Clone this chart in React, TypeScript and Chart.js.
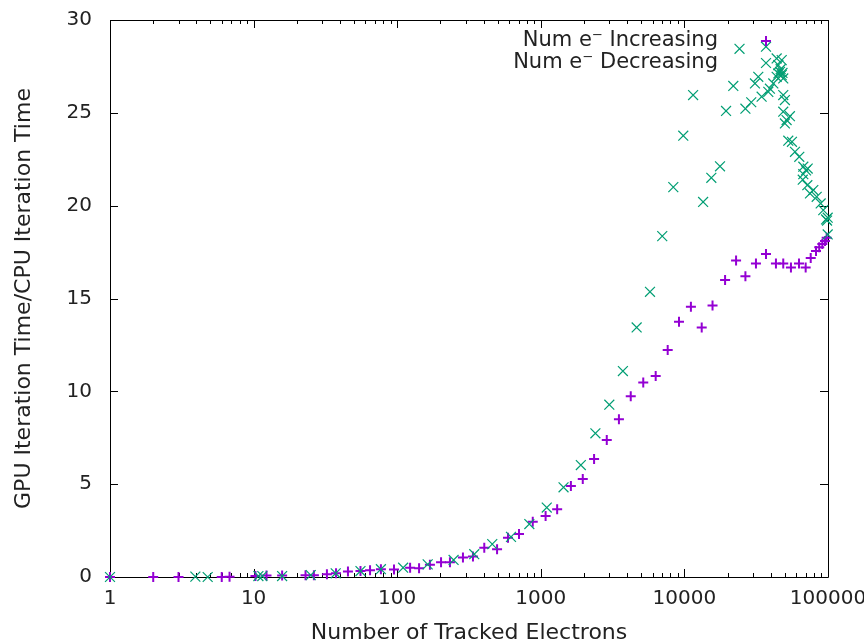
import React, { useEffect, useRef } from 'react';
import { Chart, registerables } from 'chart.js';

Chart.register(...registerables);

// ---- data ----
const incX = [1, 2, 3, 6, 6.8, 10.3, 12.3, 15.8, 23, 26.3, 32.4, 37.5, 45.4, 55.5, 64.7, 77, 95, 123, 142, 169, 202, 233, 287, 337, 404, 496, 591, 705, 879, 1080, 1300, 1620, 1960, 2350, 2880, 3500, 4230, 5170, 6310, 7650, 9170, 11100, 13200, 15700, 19200, 22900, 26600, 31500, 37000, 43400, 48800, 55200, 62800, 69900, 75800, 82500, 86900, 91300, 95300, 97900];
const incY = [0, 0, 0, 0, 0.02, 0.06, 0.08, 0.08, 0.1, 0.1, 0.15, 0.2, 0.29, 0.32, 0.36, 0.42, 0.41, 0.5, 0.47, 0.66, 0.79, 0.79, 1.05, 1.1, 1.58, 1.49, 2.12, 2.31, 2.97, 3.28, 3.65, 4.9, 5.28, 6.35, 7.38, 8.49, 9.73, 10.48, 10.82, 12.22, 13.75, 14.55, 13.44, 14.62, 16.0, 17.05, 16.2, 16.88, 17.4, 16.88, 16.88, 16.67, 16.88, 16.67, 17.18, 17.56, 17.76, 17.93, 18.1, 18.27];

const decX = [1, 3.93, 4.79, 10.8, 11.5, 15.8, 25, 37.3, 55.5, 77, 110, 163, 247, 344, 459, 620, 832, 1100, 1440, 1900, 2400, 3000, 3730, 4650, 5760, 7010, 8370, 9820, 11500, 13500, 15400, 17700, 19500, 21900, 24200, 26600, 29200, 31000, 32700, 34500, 37000, 38400, 39400, 41600, 43900, 43900, 45100, 45100, 46300, 46800, 47600, 47600, 48200, 48800, 48800, 48800, 50100, 50100, 51500, 54300, 52900, 56100, 58900, 63100, 67300, 67300, 72200, 66700, 70300, 71800, 74900, 79000, 83400, 88900, 92700, 96900, 98500, 99500, 99500];
const decY = [0, 0.02, 0, 0.05, 0.05, 0.05, 0.1, 0.2, 0.32, 0.42, 0.5, 0.68, 0.92, 1.23, 1.77, 2.16, 2.85, 3.74, 4.83, 6.03, 7.74, 9.28, 11.09, 13.44, 15.36, 18.36, 21.0, 23.77, 25.96, 20.2, 21.5, 22.12, 25.1, 26.45, 28.45, 25.22, 25.57, 26.58, 26.94, 25.87, 28.56, 26.13, 26.3, 26.58, 27.93, 26.94, 27.57, 27.12, 27.21, 27.35, 27.84, 27.03, 27.15, 26.85, 25.96, 25.06, 25.69, 24.43, 24.61, 24.82, 23.5, 23.44, 22.9, 22.63, 22.1, 21.7, 22.0, 21.4, 21.9, 21.1, 20.66, 20.84, 20.48, 20.12, 19.76, 19.26, 19.2, 19.35, 18.45];

const xMajorTicks = [1, 10, 100, 1000, 10000, 100000];
const xMinorMultipliers = [2, 3, 4, 5, 6, 7, 8, 9];
const yTicks = [0, 5, 10, 15, 20, 25, 30];
const legendLabels = ['Num e\u207B Increasing', 'Num e\u207B Decreasing'];
const xTitle = 'Number of Tracked Electrons';
const yTitle = 'GPU Iteration Time/CPU Iteration Time';

const PURPLE = '#9400d3';
const GREEN = '#009e73';
const TEXT = '#222222';
const FONT = "'DejaVu Sans', sans-serif";

const framePlugin = {
  id: 'gnuplotFrame',
  beforeDatasetsDraw(chart: any) {
    const { ctx, chartArea } = chart;
    const { left, right, top, bottom } = chartArea;
    const xs = chart.scales.x;
    const ys = chart.scales.y;
    ctx.save();
    ctx.strokeStyle = '#000';
    ctx.lineWidth = 1;
    ctx.beginPath();
    ctx.rect(Math.round(left) + 0.5, Math.round(top) + 0.5, Math.round(right - left), Math.round(bottom - top));
    ctx.stroke();
    const major = 8;
    const minor = 4;
    ctx.beginPath();
    for (const v of yTicks) {
      const py = Math.round(ys.getPixelForValue(v)) + 0.5;
      ctx.moveTo(left, py); ctx.lineTo(left + major, py);
      ctx.moveTo(right, py); ctx.lineTo(right - major, py);
    }
    for (let i = 0; i < xMajorTicks.length; i++) {
      const v = xMajorTicks[i];
      const px = Math.round(xs.getPixelForValue(v)) + 0.5;
      ctx.moveTo(px, bottom); ctx.lineTo(px, bottom - major);
      ctx.moveTo(px, top); ctx.lineTo(px, top + major);
      if (i < xMajorTicks.length - 1) {
        for (const m of xMinorMultipliers) {
          const mx = Math.round(xs.getPixelForValue(v * m)) + 0.5;
          ctx.moveTo(mx, bottom); ctx.lineTo(mx, bottom - minor);
          ctx.moveTo(mx, top); ctx.lineTo(mx, top + minor);
        }
      }
    }
    ctx.stroke();
    ctx.restore();
  },
  afterDraw(chart: any) {
    const { ctx } = chart;
    ctx.save();
    ctx.font = `21px ${FONT}`;
    ctx.fillStyle = TEXT;
    ctx.textAlign = 'right';
    ctx.textBaseline = 'middle';
    const textRight = 718;
    const sampleX = 766;
    const rows = [41, 63];
    ctx.fillText(legendLabels[0], textRight, rows[0]);
    ctx.fillText(legendLabels[1], textRight, rows[1]);
    // + sample
    ctx.strokeStyle = PURPLE;
    ctx.lineWidth = 2;
    ctx.beginPath();
    ctx.moveTo(sampleX - 5, rows[0]); ctx.lineTo(sampleX + 5, rows[0]);
    ctx.moveTo(sampleX, rows[0] - 5); ctx.lineTo(sampleX, rows[0] + 5);
    ctx.stroke();
    // x sample
    const d = 7 * Math.SQRT1_2;
    ctx.strokeStyle = GREEN;
    ctx.lineWidth = 1.2;
    ctx.beginPath();
    ctx.moveTo(sampleX - d, rows[1] - d); ctx.lineTo(sampleX + d, rows[1] + d);
    ctx.moveTo(sampleX - d, rows[1] + d); ctx.lineTo(sampleX + d, rows[1] - d);
    ctx.stroke();
    ctx.restore();
  },
};

export default function App() {
  const canvasRef = useRef<HTMLCanvasElement | null>(null);

  useEffect(() => {
    const canvas = canvasRef.current;
    if (!canvas) return;
    const chart = new Chart(canvas, {
      type: 'scatter',
      data: {
        datasets: [
          {
            label: legendLabels[0],
            data: incX.map((x, i) => ({ x, y: incY[i] })),
            pointStyle: 'cross',
            pointRadius: 5,
            pointBorderWidth: 2,
            borderColor: PURPLE,
            backgroundColor: PURPLE,
            order: 1,
            clip: false as any,
          },
          {
            label: legendLabels[1],
            data: decX.map((x, i) => ({ x, y: decY[i] })),
            pointStyle: 'crossRot',
            pointRadius: 7,
            pointBorderWidth: 1.2,
            borderColor: GREEN,
            backgroundColor: GREEN,
            order: 0,
            clip: false as any,
          },
        ],
      },
      options: {
        animation: false,
        responsive: false,
        events: [],
        layout: { padding: { top: 20, right: 36, bottom: 0, left: 0 } },
        plugins: { legend: { display: false }, tooltip: { enabled: false } },
        scales: {
          x: {
            type: 'logarithmic',
            min: 1,
            max: 100000,
            afterBuildTicks: (s: any) => {
              s.ticks = xMajorTicks.map((v) => ({ value: v }));
            },
            afterFit: (s: any) => {
              s.height = 66;
              s.paddingLeft = 0;
              s.paddingRight = 0;
            },
            grid: { display: false },
            border: { display: false },
            ticks: {
              autoSkip: false,
              maxRotation: 0,
              minRotation: 0,
              padding: 2,
              color: TEXT,
              font: { family: FONT, size: 20 },
              callback: (v: any) => String(v),
            },
            title: {
              display: true,
              text: xTitle,
              color: TEXT,
              font: { family: FONT, size: 22, lineHeight: 1 },
              padding: { top: 0, bottom: -1 },
            },
          },
          y: {
            min: 0,
            max: 30,
            afterBuildTicks: (s: any) => {
              s.ticks = yTicks.map((v) => ({ value: v }));
            },
            afterFit: (s: any) => {
              s.width = 110;
              s.paddingTop = 0;
              s.paddingBottom = 0;
            },
            grid: { display: false },
            border: { display: false },
            ticks: {
              padding: 10,
              color: TEXT,
              font: { family: FONT, size: 20 },
              callback: (v: any) => String(v),
            },
            title: {
              display: true,
              text: yTitle,
              color: TEXT,
              font: { family: FONT, size: 22, lineHeight: 1 },
              padding: { top: 13, bottom: 0 },
            },
          },
        },
      },
      plugins: [framePlugin],
    } as any);
    return () => chart.destroy();
  }, []);

  return (
    <div style={{ position: 'fixed', left: 0, top: 0, width: 864, height: 643, background: '#fff' }}>
      <canvas ref={canvasRef} width={864} height={643} style={{ display: 'block', width: 864, height: 643 }} />
    </div>
  );
}
